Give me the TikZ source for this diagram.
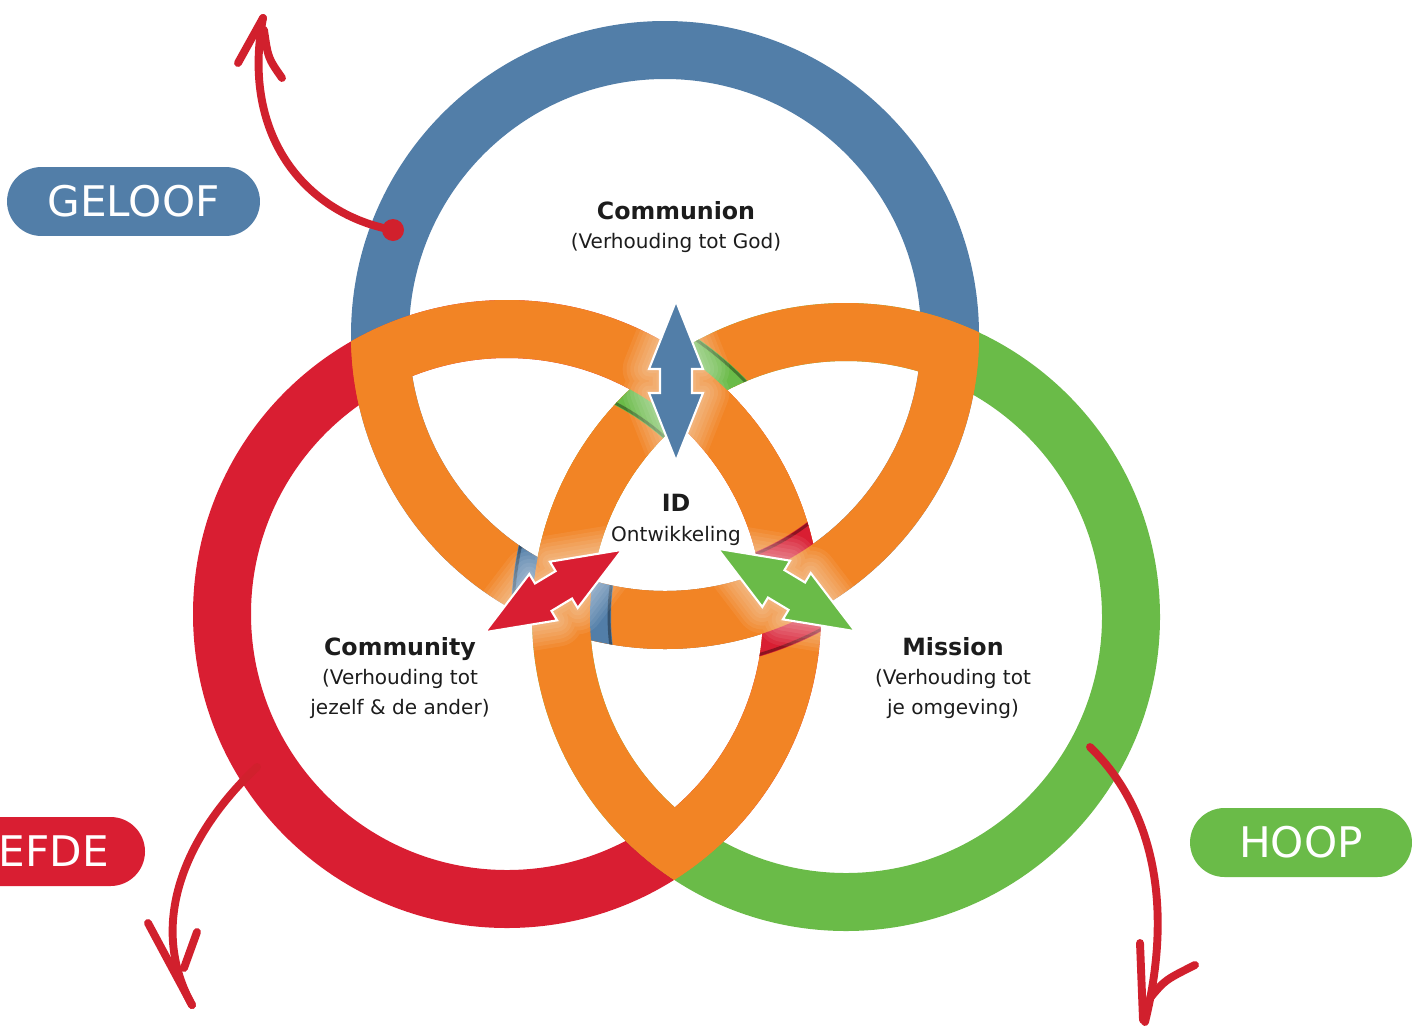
\documentclass[tikz,border=0pt]{standalone}
\usepackage{fontspec}
\setmainfont{DejaVu Sans}

\definecolor{commblue}{RGB}{82,126,168}
\definecolor{commred}{RGB}{217,30,50}
\definecolor{commgreen}{RGB}{106,187,72}
\definecolor{idorange}{RGB}{242,132,37}
\definecolor{penred}{RGB}{209,32,45}
\definecolor{inktext}{RGB}{28,28,28}

\newcommand{\twinpath}{(-80,0) -- (-12,-27) -- (-12,-16) -- (12,-16) -- (12,-27)
  -- (80,0) -- (12,27) -- (12,16) -- (-12,16) -- (-12,27) -- cycle}
\newcommand{\ringhead}[1]{{\fontsize{13.5}{17}\selectfont\bfseries #1}}

\tikzset{
  ring/.style={fill=#1, even odd rule},
  twinarrow/.style={fill=#1, draw=white, line width=1.2pt},
  glow/.style={draw=white, opacity=0.07, line width=#1, line join=round},
  pen/.style={draw=penred, line width=4.5pt, line cap=round, line join=round},
  ringtext/.style={text=inktext, align=center, font=\fontsize{11.4}{17}\selectfont},
  pilltext/.style={text=white, inner sep=0pt, font=\fontsize{24}{28}\selectfont},
  pill/.style={fill=#1, pilltext, rounded corners=0.69cm, minimum height=1.38cm}
}

\begin{document}
\begin{tikzpicture}[x=0.02cm, y=-0.02cm]

  % Frame
  \useasboundingbox (0,0) rectangle (1412,1028);
  \clip (0,0) rectangle (1412,1028);

  % Ring centres
  \coordinate (B) at (665,335);
  \coordinate (R) at (507,614);
  \coordinate (G) at (846,617);

  % Rings
  \path[ring=commblue] (B) circle (314) (B) circle (256);
  \path[ring=commred] (R) circle (314) (R) circle (256);
  \path[ring=commgreen] (G) circle (314) (G) circle (256);

  % Overlaps in orange
  \foreach \a/\b in {B/R, B/G, R/B, R/G, G/B, G/R} {
    \begin{scope}
      \clip (\b) circle (314);
      \path[ring=idorange] (\a) circle (314) (\a) circle (256);
    \end{scope}
  }

  % Blue passes under green
  \begin{scope}[even odd rule]
    \clip (560,595) circle (85);
    \clip (B) circle (314) (B) circle (256);
    \path[ring=commblue] (G) circle (335) (G) circle (314);
    \path[ring=commblue] (G) circle (256) (G) circle (235);
    \draw[commblue!65!black, line width=1.6pt] (G) circle (333) (G) circle (237);
  \end{scope}

  % Green passes under red
  \begin{scope}[even odd rule]
    \clip (680,385) circle (85);
    \clip (G) circle (314) (G) circle (256);
    \path[ring=commgreen] (R) circle (335) (R) circle (314);
    \path[ring=commgreen] (R) circle (256) (R) circle (235);
    \draw[commgreen!65!black, line width=1.6pt] (R) circle (333) (R) circle (237);
  \end{scope}

  % Red passes under blue
  \begin{scope}[even odd rule]
    \clip (785,590) circle (85);
    \clip (R) circle (314) (R) circle (256);
    \path[ring=commred] (B) circle (335) (B) circle (314);
    \path[ring=commred] (B) circle (256) (B) circle (235);
    \draw[commred!65!black, line width=1.6pt] (B) circle (333) (B) circle (237);
  \end{scope}

  % Arrow Communion - ID
  \begin{scope}[shift={(676,381)}, rotate=90]
    \foreach \w in {0.15,0.3,...,1.2}
      \draw[glow=\w cm] \twinpath;
    \path[twinarrow=commblue] \twinpath;
  \end{scope}

  % Arrow Community - ID
  \begin{scope}[shift={(553.5,591)}, rotate=31]
    \foreach \w in {0.15,0.3,...,1.2}
      \draw[glow=\w cm] \twinpath;
    \path[twinarrow=commred] \twinpath;
  \end{scope}

  % Arrow Mission - ID
  \begin{scope}[shift={(786.5,590)}, rotate=-31]
    \foreach \w in {0.15,0.3,...,1.2}
      \draw[glow=\w cm] \twinpath;
    \path[twinarrow=commgreen] \twinpath;
  \end{scope}

  % Texts
  \node[ringtext] (communion) at (676,227) {\ringhead{Communion}\\(Verhouding tot God)};
  \node[ringtext] (id) at (676,520) {\ringhead{ID}\\Ontwikkeling};
  \node[ringtext] (community) at (400,678) {\ringhead{Community}\\(Verhouding tot\\jezelf \& de ander)};
  \node[ringtext] (mission) at (953,678) {\ringhead{Mission}\\(Verhouding tot\\je omgeving)};

  % Pen arrow Geloof
  \fill[penred] (393,230) circle (11);
  \draw[pen] (393,230) .. controls (310,215) and (240,140) .. (263,18);
  \draw[pen] (238,63) -- (263,18);
  \draw[pen] (264,30) .. controls (268,58) .. (282,78);

  % Pen arrow Liefde
  \draw[pen] (257,767) .. controls (190,830) and (145,920) .. (192,1005);
  \draw[pen] (148,923) -- (192,1005);
  \draw[pen] (197,932) -- (184,968);

  % Pen arrow Hoop
  \draw[pen] (1090,747) .. controls (1150,805) and (1175,900) .. (1145,1022);
  \draw[pen] (1140,943) -- (1143,1020);
  \draw[pen] (1195,965) .. controls (1165,980) .. (1150,998);

  % Labels
  \node[pill=commblue, minimum width=5.06cm] (geloof) at (133.5,201.5) {GELOOF};
  \fill[commred, rounded corners=0.69cm] (-80,817) rectangle (145,886);
  \node[pilltext] (liefde) at (54,851.5) {EFDE};
  \node[pill=commgreen, minimum width=4.44cm] (hoop) at (1301,842.5) {HOOP};

\end{tikzpicture}
\end{document}
